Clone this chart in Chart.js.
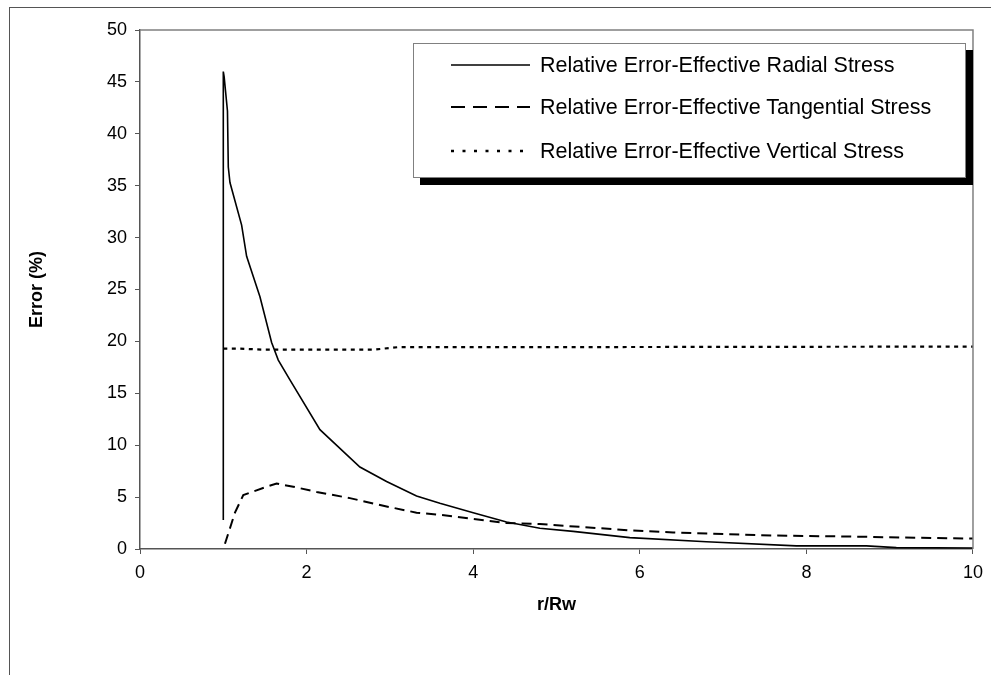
<!DOCTYPE html>
<html>
<head>
<meta charset="utf-8">
<script src="https://cdn.jsdelivr.net/npm/chart.js@4.4.1/dist/chart.umd.min.js"></script>
<style>
  html, body { margin: 0; padding: 0; background: #fff; }
  #wrap { position: relative; width: 991px; height: 675px; overflow: hidden; }
  #frame { position: absolute; left: 9px; top: 7px; width: 1100px; height: 800px; border: 1px solid #555; box-sizing: border-box; pointer-events: none; }
  #legend { position: absolute; left: 413px; top: 43px; width: 553px; height: 135px; box-sizing: border-box;
    border: 1px solid #808080; background: #fff; box-shadow: 7px 7px 0 #000;
    font-family: "Liberation Sans", Arial, sans-serif; font-size: 21.5px; color: #000; }
  .row { position: absolute; left: 37px; display: flex; align-items: center; height: 24px; white-space: nowrap; }
  .row svg { margin-right: 10px; }
</style>
</head>
<body>
<div id="wrap">
  <canvas id="chart" width="991" height="675"></canvas>
  <div id="frame"></div>
  <div id="legend">
    <div class="row" style="top:9px"><svg width="79" height="4"><line x1="0" y1="2" x2="79" y2="2" stroke="#000" stroke-width="1.6"/></svg><span>Relative Error-Effective Radial Stress</span></div>
    <div class="row" style="top:51px"><svg width="79" height="4"><line x1="0" y1="2" x2="79" y2="2" stroke="#000" stroke-width="2" stroke-dasharray="14 8"/></svg><span>Relative Error-Effective Tangential Stress</span></div>
    <div class="row" style="top:95px"><svg width="79" height="4"><line x1="0" y1="2" x2="79" y2="2" stroke="#000" stroke-width="2.5" stroke-dasharray="3 8.5"/></svg><span>Relative Error-Effective Vertical Stress</span></div>
  </div>
</div>
<script>
// values
const radialX = [1.0, 1.0, 1.01, 1.05, 1.06, 1.08, 1.22, 1.28, 1.44, 1.58, 1.66, 1.80, 2.16, 2.64, 2.96, 3.32, 3.60, 4.0, 4.4, 4.8, 5.2, 5.88, 6.8, 7.88, 8.72, 9.08, 10.0];
const radialY = [2.8, 46.0, 45.5, 42.2, 36.8, 35.3, 31.2, 28.2, 24.3, 19.9, 18.2, 16.3, 11.5, 7.9, 6.5, 5.1, 4.4, 3.5, 2.6, 2.0, 1.7, 1.1, 0.7, 0.3, 0.3, 0.13, 0.1];

const tangX = [1.02, 1.08, 1.14, 1.24, 1.52, 1.64, 1.84, 2.12, 2.52, 2.96, 3.32, 3.6, 4.4, 4.8, 5.88, 6.4, 7.6, 8.5, 10.0];
const tangY = [0.5, 2.0, 3.5, 5.2, 6.0, 6.3, 6.0, 5.5, 4.9, 4.1, 3.5, 3.3, 2.5, 2.4, 1.8, 1.6, 1.3, 1.2, 1.0];

const vertX = [1.0, 1.2, 1.5, 2.0, 2.8, 3.1, 5.0, 10.0];
const vertY = [19.3, 19.3, 19.2, 19.2, 19.2, 19.45, 19.45, 19.5];

const xTicks = [0, 2, 4, 6, 8, 10];
const yTicks = [0, 5, 10, 15, 20, 25, 30, 35, 40, 45, 50];

const pts = (xs, ys) => xs.map((x, i) => ({ x: x, y: ys[i] }));
const FONT = '"Liberation Sans", Arial, sans-serif';

const frameLines = {
  id: 'frameLines',
  afterDraw(chart) {
    const a = chart.chartArea, c = chart.ctx;
    c.save();
    c.strokeStyle = '#808080';
    c.lineWidth = 1.5;
    c.beginPath();
    c.moveTo(a.left, a.top);
    c.lineTo(a.right, a.top);
    c.lineTo(a.right, a.bottom);
    c.stroke();
    c.restore();
  }
};

new Chart(document.getElementById('chart').getContext('2d'), {
  type: 'scatter',
  data: {
    datasets: [
      { label: 'Relative Error-Effective Radial Stress', data: pts(radialX, radialY), showLine: true,
        borderColor: '#000', borderWidth: 1.6, pointRadius: 0, tension: 0 },
      { label: 'Relative Error-Effective Tangential Stress', data: pts(tangX, tangY), showLine: true,
        borderColor: '#000', borderWidth: 2, borderDash: [10, 6], pointRadius: 0 },
      { label: 'Relative Error-Effective Vertical Stress', data: pts(vertX, vertY), showLine: true,
        borderColor: '#000', borderWidth: 2.2, borderDash: [4, 4.5], pointRadius: 0 }
    ]
  },
  options: {
    responsive: false,
    animation: false,
    layout: { padding: { left: 0, top: 30, right: 18, bottom: 0 } },
    plugins: { legend: { display: false }, tooltip: { enabled: false } },
    scales: {
      x: {
        type: 'linear', min: 0, max: 10,
        afterFit: s => { s.height = 126; },
        afterBuildTicks: s => { s.ticks = xTicks.map(v => ({ value: v })); },
        grid: { drawOnChartArea: false, color: '#555', tickLength: 5 },
        border: { color: '#555', width: 1.5 },
        ticks: { color: '#000', font: { family: FONT, size: 18 }, padding: 8, maxRotation: 0 },
        title: { display: true, text: 'r/Rw', color: '#000', font: { family: FONT, size: 18, weight: 'bold' }, padding: 59 }
      },
      y: {
        type: 'linear', min: 0, max: 50,
        afterFit: s => { s.width = 140; },
        afterBuildTicks: s => { s.ticks = yTicks.map(v => ({ value: v })); },
        grid: { drawOnChartArea: false, color: '#555', tickLength: 5 },
        border: { color: '#555', width: 1.5 },
        ticks: { color: '#000', font: { family: FONT, size: 18 }, padding: 8 },
        title: { display: true, text: 'Error (%)', color: '#000', font: { family: FONT, size: 18, weight: 'bold' }, padding: 26 }
      }
    }
  },
  plugins: [frameLines]
});
</script>
</body>
</html>
